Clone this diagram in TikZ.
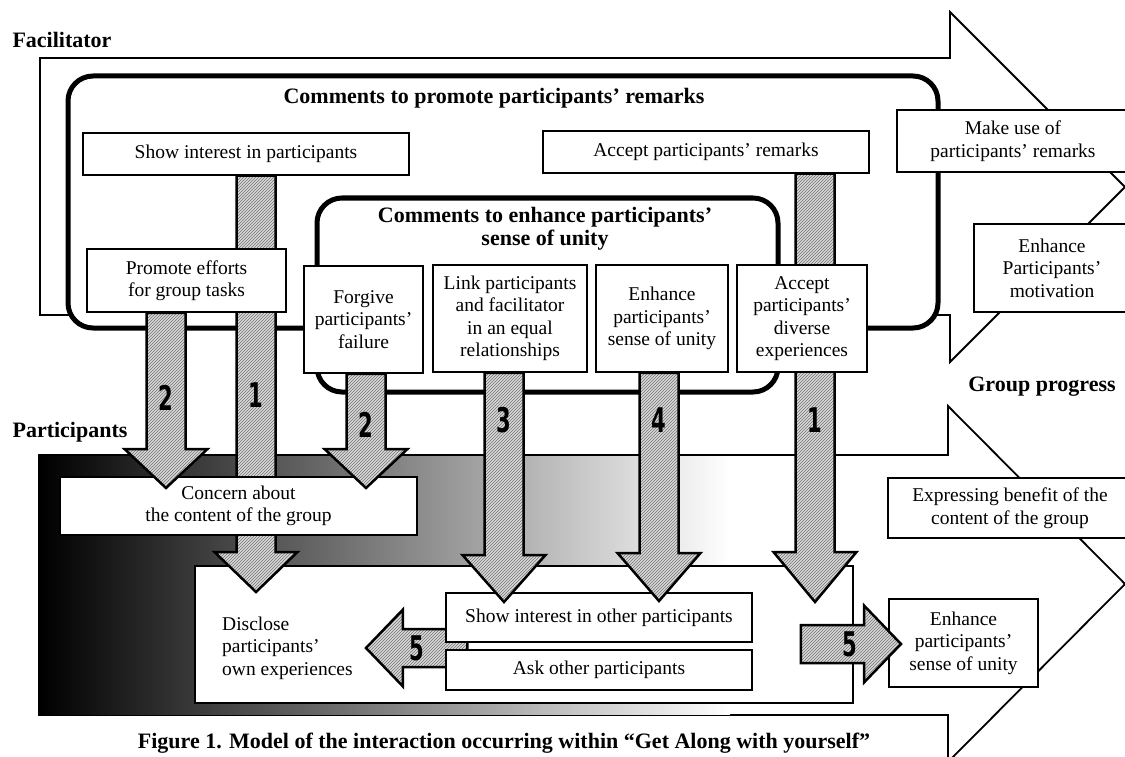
\documentclass[tikz,border=0pt]{standalone}
\usepackage{fontspec}
\setmainfont{Liberation Serif}
\newfontfamily\numfam{DejaVu Sans}
\usepackage{tikz}
\usetikzlibrary{patterns,calc,positioning}
\pgfdeclarelayer{back}
\pgfdeclarelayer{mid}
\pgfsetlayers{back,mid,main}

\newcommand{\boxfont}{\fontsize{19.5}{22.5}\selectfont}
\newcommand{\headfont}{\fontsize{22}{23}\selectfont\bfseries}
\newcommand{\numfont}{\fontsize{34}{34}\selectfont\numfam\bfseries}

\tikzset{
  box/.style={draw, line width=1.5pt, fill=white, align=center, inner sep=0pt, font=\boxfont},
  groupframe/.style={draw, line width=5pt, fill=white, rounded corners=25pt},
  bigarrow/.style={draw, line width=1.8pt, fill=white, line join=miter},
  hatch/.style={draw, line width=2.5pt, line join=miter, preaction={fill=gray!30},
    pattern=north east lines, pattern color=black!55},
  num/.style={font=\numfont, text=black, xscale=0.62, inner sep=0pt},
  head/.style={font=\headfont, align=center, inner sep=0pt},
}

% block arrow pointing down: source node, tip coordinate, head length
\newcommand{\vblock}[3]{%
  \draw[hatch] let \p1=(#1.south), \p2=(#2) in
    (\x2-19.5pt,\y1) -- (\x2-19.5pt,\y2+#3pt) -- (\x2-41.5pt,\y2+#3pt) -- (\p2)
    -- (\x2+41.5pt,\y2+#3pt) -- (\x2+19.5pt,\y2+#3pt) -- (\x2+19.5pt,\y1) -- cycle;}
% block arrow pointing sideways: start coordinate, tip coordinate
\newcommand{\hblock}[2]{%
  \draw[hatch] let \p1=#1, \p2=#2, \p3=($#2!37pt!#1$) in
    (\x1,\y2+19pt) -- (\x3,\y2+19pt) -- (\x3,\y2+38.5pt) -- (\p2)
    -- (\x3,\y2-38.5pt) -- (\x3,\y2-19pt) -- (\x1,\y2-19pt) -- cycle;}

\begin{document}
\begin{tikzpicture}[x=1pt, y=-1pt]
\useasboundingbox (0,0) rectangle (1125,757);
\clip (0,0) rectangle (1125,757);
% Group progress arrows and comment frames
\begin{pgfonlayer}{back}
\clip (0,0) rectangle (1125,757);
\draw[bigarrow] (40,58) -- (950,58) -- (950,12) -- (1125,187) -- (950,362) -- (950,315) -- (40,315) -- cycle;
\draw[groupframe] (68,76) rectangle (938,328);
\draw[groupframe] (317,198) rectangle (778,392);
\draw[bigarrow] (39,455) -- (948,455) -- (948,406) -- (1125,584) -- (948,762) -- (948,715) -- (39,715) -- cycle;
\shade[left color=black, right color=white] (40,456) rectangle (730,714);
\node[box, minimum width=658pt, minimum height=137pt] (disclose) at (524,634.5) {};
\end{pgfonlayer}

% Titles
\node[head] (facil) at (62,40) {Facilitator};
\node[head] (partic) at (70,432) {Participants};
\node[head] (progress) at (1042,387) {Group progress};
\node[head] (promtitle) at (494,98) {Comments to promote participants’ remarks};
\node[head] (unitytitle) at (545,229) {Comments to enhance participants’\\sense of unity};

% Arrow tips
\coordinate (t1a) at (256,592);
\coordinate (t1b) at (815,602);
\coordinate (t2a) at (166,488);
\coordinate (t2b) at (366,488);
\coordinate (t3) at (504,602);
\coordinate (t4) at (659,601);
\coordinate (t5a) at (366,648);
\coordinate (t5b) at (901,644);

% Facilitator comments
\node[box, minimum width=326pt, minimum height=42pt] (showint) at (246,154) {Show interest in participants};
\node[box, minimum width=326pt, minimum height=42pt] (accrem) at (706,152) {Accept participants’ remarks};
\node[box, minimum width=232pt, minimum height=62pt] (makeuse) at (1013,141) {Make use of\\participants’ remarks};
\node[box, minimum width=156pt, minimum height=88pt] (motiv) at (1052,268) {Enhance\\Participants’\\motivation};
\node[box, minimum width=244pt, minimum height=60pt] (express) at (1010,508) {Expressing benefit of the\\content of the group};

\foreach \src/\tip/\hl in {showint/t1a/40, accrem/t1b/50} {
    \vblock{\src}{\tip}{\hl}
}

\node[box, minimum width=199pt, minimum height=63pt] (promote) at (186.5,280.5) {Promote efforts\\for group tasks};
\node[box, minimum width=119pt, minimum height=107pt] (forgive) at (363.5,319.5) {Forgive\\participants’\\failure};
\node[box, minimum width=154pt, minimum height=107pt] (link) at (510,318.5) {Link participants\\and facilitator\\in an equal\\relationships};
\node[box, minimum width=132pt, minimum height=107pt] (enh) at (662,318.5) {Enhance\\participants’\\sense of unity};
\node[box, minimum width=130pt, minimum height=107pt] (accdiv) at (802,318.5) {Accept\\participants’\\diverse\\experiences};

% Participants side
\node[box, minimum width=357pt, minimum height=58pt] (concern) at (238.5,506) {Concern about\\the content of the group};

\foreach \src/\tip/\hl in {promote/t2a/39, forgive/t2b/39} {
    \vblock{\src}{\tip}{\hl}
}

\node[box, minimum width=306pt, minimum height=49pt] (showoth) at (599,617.5) {Show interest in other participants};
\node[box, minimum width=306pt, minimum height=40pt] (askoth) at (599,670) {Ask other participants};
\node[font=\boxfont, align=left, anchor=west, inner sep=0pt] (distext) at (222,648) {Disclose\\participants’\\own experiences};

\coordinate (s5a) at ($(showoth.south west)!.5!(askoth.north west)+(22,0)$);
\begin{pgfonlayer}{mid}
\hblock{(s5a)}{(t5a)}
\end{pgfonlayer}

\foreach \src/\tip/\hl in {link/t3/47, enh/t4/48} {
    \vblock{\src}{\tip}{\hl}
}

\node[box, minimum width=149pt, minimum height=88pt] (enhright) at (963.5,643) {Enhance\\participants’\\sense of unity};
\coordinate (s5b) at ($(disclose.east |- t5b)+(-53,0)$);
\hblock{(s5b)}{(t5b)}

% Step numbers
\node[num] (n1a) at (256,395) {1};
\node[num] (n1b) at (815,420) {1};
\node[num] (n2a) at (166,398) {2};
\node[num] (n2b) at (366,425) {2};
\node[num] (n3) at (504,420) {3};
\node[num] (n4) at (659,420) {4};
\node[num] (n5a) at (417,648) {5};
\node[num] (n5b) at (850,644) {5};

% Caption
\node[head] (caption) at (504,743) {Figure 1. Model of the interaction occurring within “Get Along with yourself”};
\end{tikzpicture}
\end{document}
